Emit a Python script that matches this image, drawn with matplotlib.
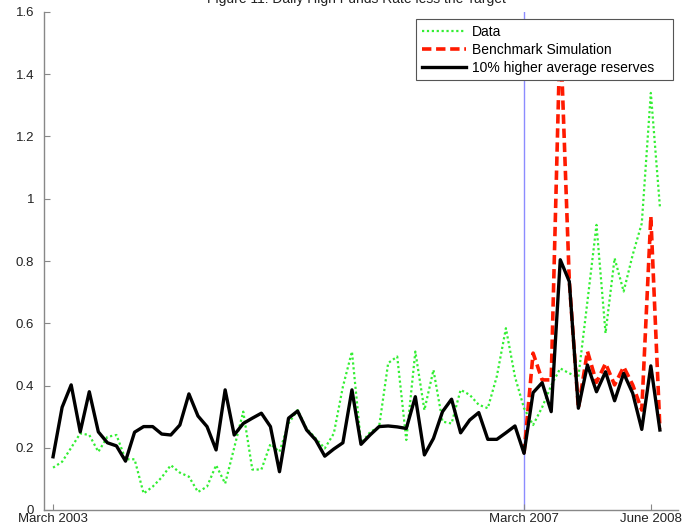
import numpy as np
import matplotlib
matplotlib.use("Agg")
import matplotlib.pyplot as plt
from matplotlib.lines import Line2D

plt.rcParams['font.family'] = ['Liberation Sans', 'DejaVu Sans']

# Observation index (1-based) and tick labels
periods = np.arange(1, 69)
tick_positions = [1, 53, 67]
tick_labels = ["March 2003", "March 2007", "June 2008"]
break_period = 53

# Daily high funds rate less the target (percentage points)
data_series = [
    0.136, 0.155, 0.200, 0.246, 0.241, 0.187, 0.235, 0.241, 0.163, 0.163,
    0.053, 0.075, 0.105, 0.144, 0.120, 0.107, 0.058, 0.075, 0.144, 0.085,
    0.200, 0.316, 0.130, 0.130, 0.212, 0.187, 0.278, 0.321, 0.262, 0.230,
    0.198, 0.246, 0.396, 0.509, 0.215, 0.250, 0.268, 0.472, 0.493, 0.225,
    0.509, 0.321, 0.450, 0.284, 0.278, 0.386, 0.370, 0.338, 0.327, 0.430,
    0.584, 0.428, 0.327, 0.273, 0.330, 0.400, 0.455, 0.439, 0.428, 0.670,
    0.916, 0.568, 0.809, 0.702, 0.820, 0.921, 1.340, 0.975,
]

higher_reserves = [
    0.171, 0.330, 0.402, 0.251, 0.380, 0.251, 0.216, 0.206, 0.157, 0.250,
    0.268, 0.268, 0.244, 0.241, 0.273, 0.373, 0.302, 0.268, 0.193, 0.386,
    0.241, 0.278, 0.295, 0.311, 0.268, 0.123, 0.295, 0.318, 0.257, 0.225,
    0.173, 0.196, 0.216, 0.386, 0.211, 0.241, 0.268, 0.270, 0.267, 0.262,
    0.364, 0.177, 0.230, 0.316, 0.356, 0.248, 0.289, 0.313, 0.227, 0.227,
    0.248, 0.270, 0.182, 0.377, 0.409, 0.316, 0.804, 0.734, 0.327, 0.466,
    0.380, 0.444, 0.351, 0.439, 0.375, 0.259, 0.463, 0.257,
]

# Benchmark simulation, from March 2007 onward
benchmark_periods = np.arange(53, 69)
benchmark = [
    0.182, 0.504, 0.418, 0.418, 1.550, 0.734, 0.327, 0.510,
    0.410, 0.471, 0.402, 0.460, 0.402, 0.321, 0.943, 0.262,
]

W, H = 686, 530
fig = plt.figure(figsize=(W / 100, H / 100), dpi=100)
ax = fig.add_axes([44 / W, 20 / H, 634 / W, 498 / H])

green_style = dict(color='#33ee33', lw=1.6, ls=(0, (1, 1.2)))
red_style = dict(color='#ff1a00', lw=2.6, ls=(0, (2.6, 1.3)))
black_style = dict(color='black', lw=2.4)

ax.axvline(break_period, color='#8c8cff', lw=1.0, zorder=1)
ax.plot(periods, data_series, zorder=2, **green_style)
ax.plot(benchmark_periods, benchmark, zorder=3, **red_style)
ax.plot(periods, higher_reserves, zorder=4, **black_style)

ax.set_xlim(0, 70)
ax.set_ylim(0, 1.6)
ax.set_yticks(np.arange(0, 1.61, 0.2))
ax.set_yticklabels(['0', '0.2', '0.4', '0.6', '0.8', '1', '1.2', '1.4', '1.6'])
ax.set_xticks(tick_positions)
ax.set_xticklabels(tick_labels)

for side in ('top', 'right'):
    ax.spines[side].set_visible(False)
for side in ('left', 'bottom'):
    ax.spines[side].set_color('#888888')
    ax.spines[side].set_linewidth(1.0)

ax.tick_params(axis='both', direction='in', length=4, width=0.8, color='#888888',
               labelsize=9.5, labelcolor='#222222')
ax.tick_params(axis='y', pad=7)
ax.tick_params(axis='x', pad=2)

handles = [
    Line2D([], [], **green_style),
    Line2D([], [], **red_style),
    Line2D([], [], **black_style),
]
x0 = (416 - 44) / 634
x1 = (673 - 44) / 634
top = 1 - (19 - 12) / 498
leg = ax.legend(handles, ["Data", "Benchmark Simulation", "10% higher average reserves"],
                loc='upper left', bbox_to_anchor=(x0, 0, x1 - x0, top), mode='expand',
                borderaxespad=0, fancybox=False, frameon=True, framealpha=1,
                fontsize=10, handlelength=3.2, handletextpad=0.4,
                labelspacing=0.3, borderpad=0.4)
leg.get_frame().set_edgecolor('#555555')
leg.get_frame().set_linewidth(0.8)

fig.text(356 / W, 1 - 3.5 / H, "Figure 11: Daily High Funds Rate less the Target",
         ha='center', va='baseline', fontsize=10, color='#222222')

fig.savefig('out.png', dpi=100)
